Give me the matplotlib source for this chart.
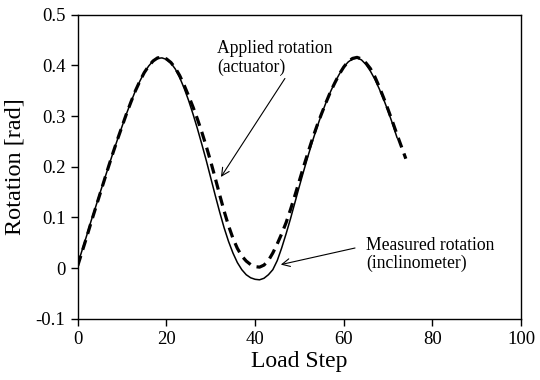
import matplotlib
matplotlib.use("Agg")
import matplotlib.pyplot as plt
from matplotlib.ticker import FuncFormatter

plt.rcParams['font.family'] = ['Liberation Serif', 'DejaVu Serif']

# Applied rotation (actuator) - dashed, one value per load step 0..74
applied = [0.005, 0.033, 0.061, 0.090, 0.118, 0.146, 0.174, 0.202, 0.229, 0.255,
           0.280, 0.305, 0.328, 0.350, 0.369, 0.386, 0.399, 0.409, 0.415, 0.416,
           0.413, 0.406, 0.395, 0.380, 0.361, 0.340, 0.318, 0.294, 0.268, 0.240,
           0.210, 0.178, 0.145, 0.113, 0.084, 0.059, 0.039, 0.024, 0.014, 0.007,
           0.003, 0.002, 0.006, 0.015, 0.030, 0.048, 0.068, 0.090, 0.116, 0.144,
           0.173, 0.202, 0.230, 0.257, 0.282, 0.305, 0.327, 0.348, 0.366, 0.383,
           0.397, 0.408, 0.414, 0.416, 0.413, 0.405, 0.394, 0.378, 0.358, 0.336,
           0.313, 0.289, 0.264, 0.240, 0.216]

# Measured rotation (inclinometer) - solid, load steps 0..72
measured = [0.008, 0.036, 0.064, 0.093, 0.120, 0.148, 0.175, 0.202, 0.229, 0.255,
            0.280, 0.305, 0.328, 0.350, 0.369, 0.386, 0.399, 0.409, 0.414, 0.415,
            0.412, 0.405, 0.393, 0.376, 0.355, 0.331, 0.304, 0.275, 0.244, 0.212,
            0.178, 0.144, 0.111, 0.080, 0.053, 0.030, 0.011, -0.003, -0.013, -0.019,
            -0.022, -0.023, -0.020, -0.013, -0.003, 0.015, 0.040, 0.068, 0.098, 0.130,
            0.162, 0.193, 0.223, 0.252, 0.279, 0.304, 0.327, 0.348, 0.367, 0.383,
            0.397, 0.407, 0.413, 0.415, 0.411, 0.402, 0.389, 0.373, 0.354, 0.333,
            0.310, 0.285, 0.258]

steps_applied = list(range(len(applied)))
steps_measured = list(range(len(measured)))

fig = plt.figure(figsize=(5.4, 3.8), dpi=100)
ax = fig.add_axes([0.144, 0.161, 0.821, 0.800])

ax.plot(steps_measured, measured, color='black', lw=1.1)
ax.plot(steps_applied, applied, color='black', lw=2.3, dashes=(3.2, 2.0))

ax.set_xlim(0, 100)
ax.set_ylim(-0.1, 0.5)
ax.set_xticks([0, 20, 40, 60, 80, 100])
ax.set_yticks([-0.1, 0, 0.1, 0.2, 0.3, 0.4, 0.5])
ax.yaxis.set_major_formatter(FuncFormatter(lambda v, p: '{:g}'.format(round(v, 2))))
ax.tick_params(direction='out', length=5, width=1, labelsize=13.5, pad=4,
               top=False, right=False)
for s in ax.spines.values():
    s.set_linewidth(1.0)

ax.set_xlabel('Load Step', fontsize=17, labelpad=2)
ax.set_ylabel('Rotation [rad]', fontsize=17.5, labelpad=7)

# annotations
ax.annotate('Applied rotation\n(actuator)', xy=(32.3, 0.18), xytext=(31.5, 0.415),
            fontsize=12.7, ha='left', va='center', linespacing=1.1,
            arrowprops=dict(arrowstyle='->', lw=0.8, color='black',
                            shrinkA=0, shrinkB=0, mutation_scale=14,
                            relpos=(0.6, 0.0)))
ax.annotate('Measured rotation\n(inclinometer)', xy=(45.8, 0.007), xytext=(65, 0.027),
            fontsize=12.7, ha='left', va='center', linespacing=1.1,
            arrowprops=dict(arrowstyle='->', lw=0.8, color='black',
                            shrinkA=6, shrinkB=0, mutation_scale=14,
                            relpos=(0.0, 0.75)))

fig.savefig('out.png', dpi=100)
